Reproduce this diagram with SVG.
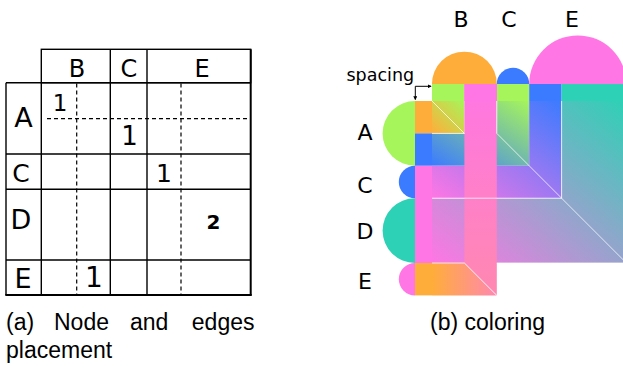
<svg xmlns="http://www.w3.org/2000/svg" width="623" height="368" viewBox="0 0 623 368">
<style>
.g{stroke:#000;stroke-width:1.4;fill:none}
.gb{stroke:#000;stroke-width:2;fill:none}
.d{stroke:#000;stroke-width:1.2;stroke-dasharray:4 3;fill:none}
.t{font-family:"DejaVu Sans",sans-serif;fill:#000;text-anchor:middle}
.cap{font-family:"Liberation Sans",Arial,sans-serif;font-size:23px;fill:#000}
.seam{stroke:#fff;stroke-width:1;stroke-opacity:0.75;fill:none}
</style>
<defs>
<linearGradient id="g1" x1="0" y1="1" x2="1" y2="0"><stop offset="0" stop-color="#ffad3a"/><stop offset="1" stop-color="#a6f55a"/></linearGradient>
<linearGradient id="g2" x1="0" y1="1" x2="1" y2="0"><stop offset="0" stop-color="#3b7bff"/><stop offset="1" stop-color="#a6f55a"/></linearGradient>
<linearGradient id="g3" x1="0" y1="1" x2="1" y2="0"><stop offset="0" stop-color="#ff76e4"/><stop offset="1" stop-color="#3b7bff"/></linearGradient>
<linearGradient id="g4" x1="0" y1="1" x2="1" y2="0"><stop offset="0" stop-color="#ff76e4"/><stop offset="1" stop-color="#2dd1b5"/></linearGradient>
<linearGradient id="g5h" x1="0" y1="0" x2="1" y2="0"><stop offset="0" stop-color="#ffad3a"/><stop offset="1" stop-color="#ff88b0"/></linearGradient>
<linearGradient id="g5v" x1="0" y1="1" x2="0" y2="0"><stop offset="0" stop-color="#ff88b0"/><stop offset="1" stop-color="#ff76e4"/></linearGradient>
<marker id="ah" viewBox="0 0 6 6" refX="5" refY="3" markerWidth="4" markerHeight="4" orient="auto-start-reverse"><path d="M0,0 L6,3 L0,6 Z" fill="#000"/></marker>
</defs>

<g id="panel-a">
<g id="grid-a">
<rect class="g" x="41.3" y="49.3" width="209.4" height="33.4"/>
<line class="g" x1="110.3" y1="49.3" x2="110.3" y2="295"/>
<line class="g" x1="147" y1="49.3" x2="147" y2="295"/>
<line class="g" x1="6" y1="82.7" x2="250.7" y2="82.7"/>
<line class="g" x1="6" y1="82.7" x2="6" y2="295"/>
<line class="g" x1="41.3" y1="82.7" x2="41.3" y2="295"/>
<line class="g" x1="6" y1="154" x2="250.7" y2="154"/>
<line class="g" x1="6" y1="189.3" x2="250.7" y2="189.3"/>
<line class="g" x1="6" y1="260" x2="250.7" y2="260"/>
<line class="gb" x1="250.7" y1="49.3" x2="250.7" y2="295.5"/>
<line class="gb" x1="5.3" y1="295" x2="251.7" y2="295"/>
<line class="d" x1="76.7" y1="83.5" x2="76.7" y2="295"/>
<line class="d" x1="181" y1="83.5" x2="181" y2="295"/>
<line class="d" x1="47" y1="118.7" x2="250" y2="118.7"/>
</g>
<g id="labels-a">
<text class="t" x="77" y="76.5" font-size="24">B</text>
<text class="t" x="129" y="76.5" font-size="24">C</text>
<text class="t" x="202" y="76.5" font-size="24">E</text>
<text class="t" x="23.5" y="127" font-size="27">A</text>
<text class="t" x="21" y="182" font-size="25">C</text>
<text class="t" x="21" y="229" font-size="27">D</text>
<text class="t" x="23" y="288" font-size="27">E</text>
<text class="t" x="60" y="111" font-size="23">1</text>
<text class="t" x="129.5" y="145" font-size="26">1</text>
<text class="t" x="164" y="182" font-size="25">1</text>
<text class="t" x="213.5" y="229" font-size="20" font-weight="bold">2</text>
<text class="t" x="94" y="287" font-size="28">1</text>
</g>
</g>

<g id="panel-b">
<g id="nodes-b">
<g id="node-B"><path d="M432,84 A32.4,32.4 0 0 1 496.8,84 Z" fill="#ffad3a"/></g>
<g id="node-C-top"><path d="M496.8,84 A16.2,16.2 0 0 1 529.2,84 Z" fill="#3b7bff"/></g>
<g id="node-E-top"><path d="M529.2,84 A48.6,48.6 0 0 1 626.4,84 Z" fill="#ff76e4"/></g>
<g id="node-A"><path d="M415,101 A32.4,32.4 0 0 0 415,165.8 Z" fill="#a6f55a"/></g>
<g id="node-C-left"><path d="M415,165.8 A16.2,16.2 0 0 0 415,198.2 Z" fill="#3b7bff"/></g>
<g id="node-D"><path d="M415,198.2 A32.4,32.4 0 0 0 415,263 Z" fill="#2dd1b5"/></g>
<g id="node-E-left"><path d="M415,263 A16.2,16.2 0 0 0 415,295.4 Z" fill="#ff76e4"/></g>
</g>
<g id="ports-b">
<rect x="432" y="84" width="32.4" height="17" fill="#a6f55a"/>
<rect x="496.8" y="84" width="32.4" height="17" fill="#a6f55a"/>
<rect x="529.2" y="84" width="32.4" height="17" fill="#3b7bff"/>
<rect x="561.6" y="84" width="64.8" height="17" fill="#2dd1b5"/>
<rect x="415" y="101" width="17" height="32.4" fill="#ffad3a"/>
<rect x="415" y="133.4" width="17" height="32.4" fill="#3b7bff"/>
<rect x="415" y="165.8" width="17" height="97.2" fill="#ff76e4"/>
<rect x="415" y="263" width="17" height="32.4" fill="#ffad3a"/>
</g>
<g id="connectors">
<path d="M432,101 H464.4 V133.4 H432 Z" fill="url(#g1)"/>
<path d="M432,133.4 H496.8 V101 H529.2 V165.8 H432 Z" fill="url(#g2)"/>
<path d="M432,165.8 H529.2 V101 H561.6 V198.2 H432 Z" fill="url(#g3)"/>
<path d="M432,198.2 H561.6 V101 H626.4 V263 H432 Z" fill="url(#g4)"/>
<path d="M432,263 H464.4 L496.8,295.4 H432 Z" fill="url(#g5h)"/>
<path d="M464.4,84 H496.8 V295.4 L464.4,263 Z" fill="url(#g5v)"/>
<rect x="464.4" y="84" width="32.4" height="17" fill="#ff76e4"/>
<path class="seam" d="M432,101 L464.4,133.4 M432,133.4 H464.4 M496.8,101 V133.4 L626.4,263 M432,198.2 H561.6 M561.6,101 V198.2 M432,263 H464.4 L496.8,295.4 M496.8,263 H626.4"/>
</g>
<g id="spacing">
<path d="M415.3,99.5 V86.3 H431" stroke="#000" stroke-width="1" fill="none" marker-start="url(#ah)" marker-end="url(#ah)"/>
<text x="346.5" y="81" font-family="DejaVu Sans,sans-serif" font-size="17.5" fill="#000">spacing</text>
</g>
<g id="labels-b">
<text class="t" x="461" y="27" font-size="22">B</text>
<text class="t" x="509" y="27" font-size="22">C</text>
<text class="t" x="572" y="27" font-size="22">E</text>
<text class="t" x="365" y="139.5" font-size="22">A</text>
<text class="t" x="365" y="192.5" font-size="22">C</text>
<text class="t" x="365" y="239" font-size="22">D</text>
<text class="t" x="365" y="289" font-size="22">E</text>
</g>
</g>

<g id="captions">
<text class="cap" x="6" y="330">(a)</text>
<text class="cap" x="54" y="330">Node</text>
<text class="cap" x="130" y="330">and</text>
<text class="cap" x="254.5" y="330" text-anchor="end">edges</text>
<text class="cap" x="6" y="358">placement</text>
<text class="cap" x="430" y="330">(b) coloring</text>
</g>
</svg>
